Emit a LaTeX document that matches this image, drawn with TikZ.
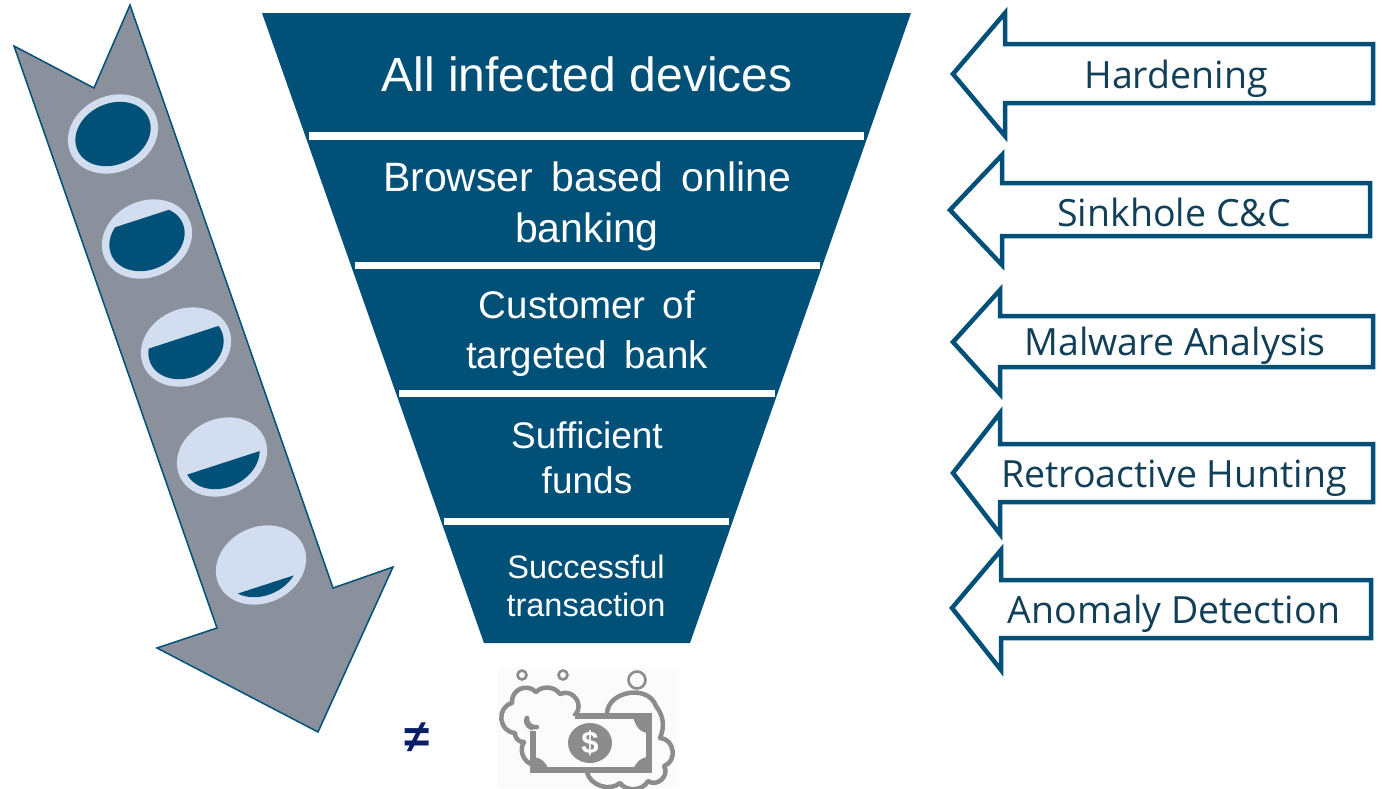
\documentclass[tikz,border=0pt]{standalone}
\usepackage{fontspec}
\setmainfont{Open Sans}
\newfontfamily\funnelfont{Liberation Sans}
\usetikzlibrary{positioning}
\usetikzlibrary{shapes.geometric}
\definecolor{bankblue}{HTML}{005078}
\definecolor{slategrey}{HTML}{8A909C}
\definecolor{palering}{HTML}{D2DEEF}
\definecolor{moneygrey}{HTML}{8C8C8C}
\definecolor{darktext}{HTML}{123F58}
\definecolor{navysign}{HTML}{0B1F66}
\tikzset{
  stage/.style={text=white, align=center, inner sep=0pt},
  gap/.style={fill=white, draw=none},
  defence/.style={draw=bankblue, line width=4.5pt, fill=white, miter limit=10},
  defencetext/.style={text=darktext, font=\fontsize{37.5}{40}\selectfont, inner sep=0pt},
  bubble/.style={draw=moneygrey, line width=2.6pt},
  foam/.style={draw=moneygrey, line width=4.5pt, line cap=round, line join=round}
}
\begin{document}
\begin{tikzpicture}[x=1pt,y=-1pt]
    \useasboundingbox (0,0) rectangle (1382,788);

    % Funnel
    \fill[bankblue] (262,13) -- (911,13) -- (690,643) -- (484,643) -- cycle;
    \fill[gap] (309,132) rectangle (864,140);
    \fill[gap] (355,262) rectangle (820,269);
    \fill[gap] (399,390) rectangle (775,397);
    \fill[gap] (444,518) rectangle (729,525);

    % Define nodes
    \node[stage, font=\funnelfont\fontsize{48}{50}\selectfont] (infected) at (587,74) {All infected devices};
    \node[stage, font=\funnelfont\fontsize{41}{51}\selectfont] (browser) at (587,206) {Browser\, based\, online\\banking};
    \node[stage, font=\funnelfont\fontsize{38.5}{50}\selectfont] (customer) at (587,334) {Customer\, of\\targeted\, bank};
    \node[stage, font=\funnelfont\fontsize{37}{45}\selectfont] (funds) at (587,458) {Sufficient\\funds};
    \node[stage, font=\funnelfont\fontsize{32.5}{38}\selectfont] (transaction) at (586,586) {Successful\\transaction};

    % Left arrow
    \draw[bankblue, line width=1.5pt, fill=slategrey, miter limit=10] (130,5) -- (94,88) -- (14,46) -- (217,628) -- (157,648)
      -- (318,732) -- (393,567) -- (333,588) -- cycle;

    \foreach \name/\cx/\cy/\level in {one/113/134/-60, two/147/239/-21, three/186/347/-10, four/222/457/6, five/261/565/20} {
      \node[ellipse, fill=palering, rotate=25, inner sep=0pt, minimum width=93pt, minimum height=76pt] (ring\name) at (\cx,\cy) {};
      \begin{scope}[shift={(\cx,\cy)}]
        \clip[rotate=25] (0,0) ellipse (39 and 30.5);
        \fill[bankblue, rotate=18] (-70,\level) rectangle (70,70);
      \end{scope}
    }

    % Right arrows
    \foreach \tipx/\midy/\headx/\headt/\shaftt/\shaftb/\headb/\rightx in {
      953/74/1005/13/44/103/136/1373,
      950/210/1002/155/183/236/265/1370,
      953/342/1000/290/316/367/394/1373,
      953/473/1000/413/444/502/534/1373,
      952/608/1001/550/580/638/670/1371} {
      \draw[defence] (\tipx,\midy) -- (\headx,\headt) -- (\headx,\shaftt) -- (\rightx,\shaftt)
        -- (\rightx,\shaftb) -- (\headx,\shaftb) -- (\headx,\headb) -- cycle;
    }
    \node[defencetext] (hardening) at (1176,79) {Hardening};
    \node[defencetext] (sinkhole) at (1174,212) {Sinkhole C\&C};
    \node[defencetext] (analysis) at (1175,346) {Malware Analysis};
    \node[defencetext] (hunting) at (1174,478) {Retroactive Hunting};
    \node[defencetext] (anomaly) at (1174,614) {Anomaly Detection};

    % Money
    \node[text=navysign, font=\funnelfont\bfseries\fontsize{46}{46}\selectfont, inner sep=0pt] (neq) at (417,738) {≠};
    \fill[black!1.5] (497,668) rectangle (677,788);
    \draw[bubble] (522,675) circle (4.5);
    \draw[bubble] (563,675) circle (4.5);
    \draw[bubble] (637,680) circle (8.5);
    \draw[foam] (531,764) to[bend left=50] (524,742) to[bend left=50] (515,733) to[bend left=80, looseness=1.4] (512,703)
      to[bend left=70, looseness=1.3] (536,692) to[bend left=50] (560,694) to[bend left=80, looseness=1.4] (575,715)
      to[bend left=70, looseness=1.3] (553,724) to[bend left=60] (537,727) to[bend left=80, looseness=1.3] (527,718);
    \draw[foam] (607,714) to[bend left=80, looseness=1.2] (656,706) to[bend left=30] (660,738) to[bend left=80, looseness=1.3] (664,766)
      to[bend left=80, looseness=1.3] (648,781) to[bend left=60] (620,783) to[bend left=60] (587,772);
    \fill[white] (533,716) rectangle (649,770);
    \fill[black!1.5] (533,716) rectangle (649,770);
    \draw[moneygrey, line width=5.5pt] (575,716) -- (649,716) -- (649,770) -- (533,770) -- (533,731);
    \draw[foam] (537,727) to[bend left=60] (527,718);
    \fill[moneygrey] (633,716) -- (649,716) -- (649,733) .. controls (640,733) and (635,726) .. cycle;
    \fill[moneygrey] (533,770) -- (533,757) .. controls (540,757) and (547,762) .. (548,770) -- cycle;
    \fill[moneygrey] (633,770) -- (649,770) -- (649,757) .. controls (640,757) and (635,764) .. cycle;
    \node[ellipse, fill=moneygrey, text=white, inner sep=0pt, minimum width=44pt, minimum height=40pt, font=\funnelfont\bfseries\fontsize{31}{31}\selectfont] (dollar) at (590,743) {\$};

\end{tikzpicture}
\end{document}
